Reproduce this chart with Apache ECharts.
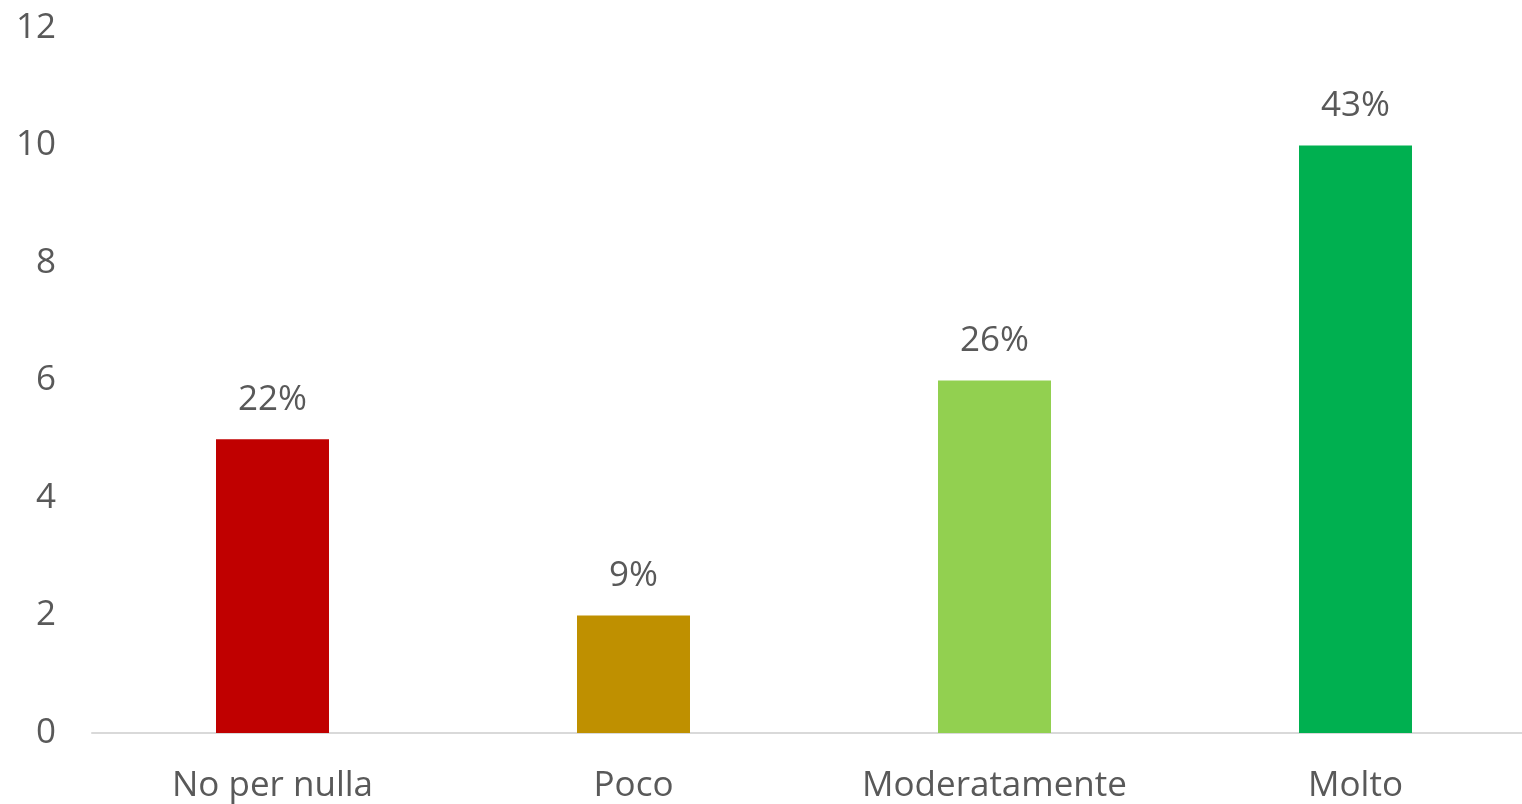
<!DOCTYPE html>
<html>
<head>
<meta charset="utf-8">
<script src="https://cdn.jsdelivr.net/npm/echarts@6/dist/echarts.min.js"></script>
<style>
html,body{margin:0;padding:0;background:#fff;}
#chart{width:1522px;height:804px;}
</style>
</head>
<body>
<div id="chart"></div>
<script>
var categories = ["No per nulla", "Poco", "Moderatamente", "Molto"];
var values = [5, 2, 6, 10];
var percentLabels = ["22%", "9%", "26%", "43%"];
var barColors = ["#C00000", "#BF9000", "#92D050", "#00B050"];
var yTicks = [0, 2, 4, 6, 8, 10, 12];

var font = "'Open Sans', 'Noto Sans', sans-serif";
var chart = echarts.init(document.getElementById('chart'));
chart.setOption({
  animation: false,
  grid: { left: 92, top: 28, bottom: 71, width: 1444, outerBoundsMode: 'none', containLabel: false },
  xAxis: {
    type: 'category',
    data: categories,
    axisLine: { lineStyle: { color: '#d9d9d9', width: 2 } },
    axisTick: { show: false },
    axisLabel: { color: '#595959', fontSize: 35, fontFamily: font, margin: 36 }
  },
  yAxis: {
    type: 'value',
    min: yTicks[0],
    max: yTicks[yTicks.length - 1],
    interval: 2,
    splitLine: { show: false },
    axisLine: { show: false },
    axisTick: { show: false },
    axisLabel: { color: '#595959', fontSize: 35, fontFamily: font, margin: 36, verticalAlign: 'middle', padding: [12, 0, 0, 0] }
  },
  series: [{
    type: 'bar',
    barWidth: '31.3%',
    data: values.map(function (v, i) {
      return { value: v, itemStyle: { color: barColors[i] } };
    }),
    label: {
      show: true,
      position: 'top',
      distance: 22,
      color: '#595959',
      fontSize: 35,
      fontFamily: font,
      formatter: function (p) { return percentLabels[p.dataIndex]; }
    }
  }]
});
</script>
</body>
</html>
